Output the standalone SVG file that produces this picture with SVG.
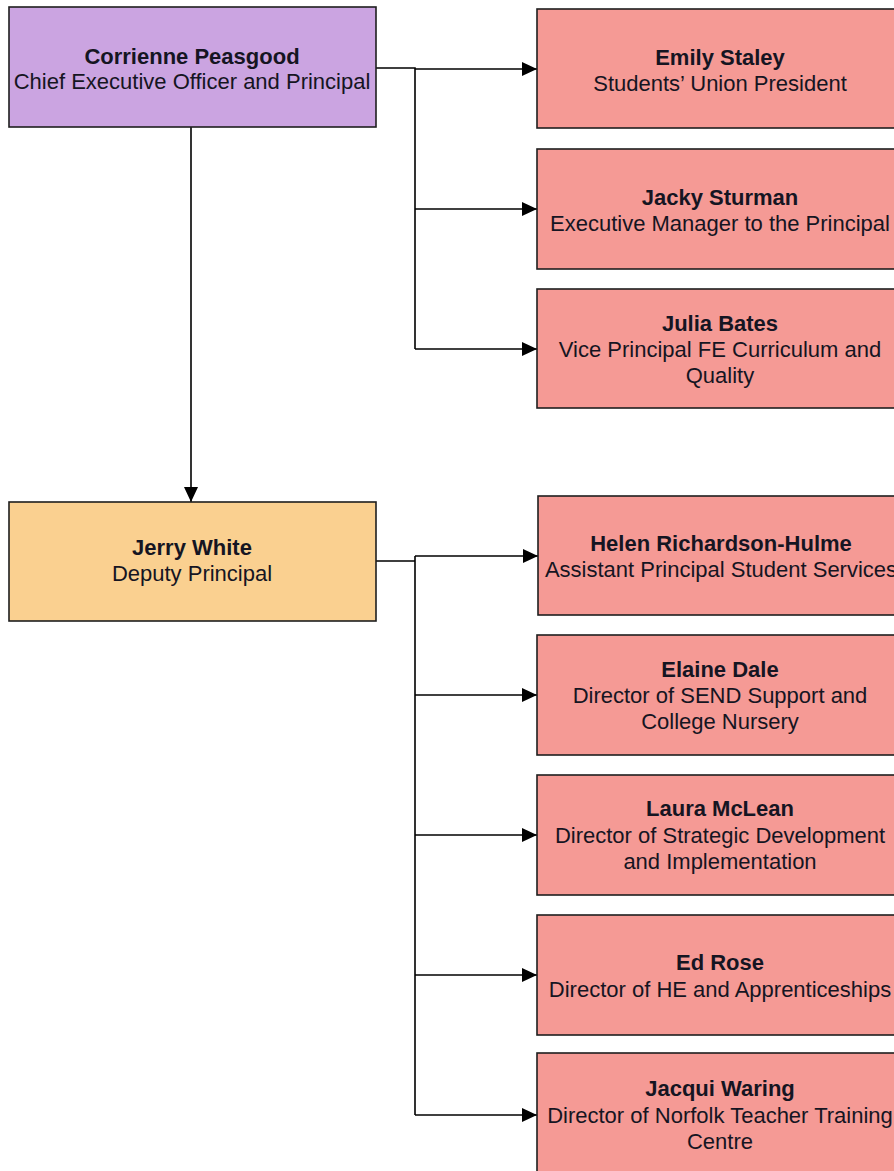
<svg xmlns="http://www.w3.org/2000/svg" width="894" height="1171" viewBox="0 0 894 1171">
<style>
.box{stroke:#1f1f1f;stroke-width:1.6}
.ceo{fill:#cba4e1}
.dep{fill:#fad090}
.rep{fill:#f59a95}
.t{font-family:"Liberation Sans",Arial,sans-serif;font-size:22px;fill:#151522;text-anchor:middle}
.b{font-weight:bold}
.c{fill:none;stroke:#000;stroke-width:1.6}
</style>
<defs>
<marker id="ah" markerUnits="userSpaceOnUse" markerWidth="16" markerHeight="16" refX="15" refY="8" orient="auto">
<path d="M0,1 L15,8 L0,15 z" fill="#000"/>
</marker>
</defs>
<rect width="894" height="1171" fill="#fff"/>
<g id="connectors">
<path class="c" d="M376,68 H415 V349"/>
<path class="c" d="M415,69 H537" marker-end="url(#ah)"/>
<path class="c" d="M415,209 H537" marker-end="url(#ah)"/>
<path class="c" d="M415,349 H537" marker-end="url(#ah)"/>
<path class="c" d="M191,127 V502" marker-end="url(#ah)"/>
<path class="c" d="M376,561 H415 V556 M415,556 V1115"/>
<path class="c" d="M415,556 H538" marker-end="url(#ah)"/>
<path class="c" d="M415,695 H537" marker-end="url(#ah)"/>
<path class="c" d="M415,835 H537" marker-end="url(#ah)"/>
<path class="c" d="M415,975 H537" marker-end="url(#ah)"/>
<path class="c" d="M415,1115 H537" marker-end="url(#ah)"/>
</g>
<g id="ceo">
<rect class="box ceo" x="9" y="7" width="367" height="120"/>
<text class="t b" x="192" y="64">Corrienne Peasgood</text>
<text class="t" x="192" y="89">Chief Executive Officer and Principal</text>
</g>
<g id="emily">
<rect class="box rep" x="537" y="9" width="366" height="119"/>
<text class="t b" x="720" y="65">Emily Staley</text>
<text class="t" x="720" y="91">Students’ Union President</text>
</g>
<g id="jacky">
<rect class="box rep" x="537" y="149" width="366" height="120"/>
<text class="t b" x="720" y="205">Jacky Sturman</text>
<text class="t" x="720" y="231">Executive Manager to the Principal</text>
</g>
<g id="julia">
<rect class="box rep" x="537" y="289" width="366" height="119"/>
<text class="t b" x="720" y="331">Julia Bates</text>
<text class="t" x="720" y="357">Vice Principal FE Curriculum and</text>
<text class="t" x="720" y="383">Quality</text>
</g>
<g id="jerry">
<rect class="box dep" x="9" y="502" width="367" height="119"/>
<text class="t b" x="192" y="555">Jerry White</text>
<text class="t" x="192" y="581">Deputy Principal</text>
</g>
<g id="helen">
<rect class="box rep" x="538" y="496" width="366" height="119"/>
<text class="t b" x="721" y="551">Helen Richardson-Hulme</text>
<text class="t" x="721" y="577">Assistant Principal Student Services</text>
</g>
<g id="elaine">
<rect class="box rep" x="537" y="635" width="366" height="120"/>
<text class="t b" x="720" y="677">Elaine Dale</text>
<text class="t" x="720" y="703">Director of SEND Support and</text>
<text class="t" x="720" y="729">College Nursery</text>
</g>
<g id="laura">
<rect class="box rep" x="537" y="775" width="366" height="120"/>
<text class="t b" x="720" y="816">Laura McLean</text>
<text class="t" x="720" y="843">Director of Strategic Development</text>
<text class="t" x="720" y="869">and Implementation</text>
</g>
<g id="ed">
<rect class="box rep" x="537" y="915" width="366" height="120"/>
<text class="t b" x="720" y="970">Ed Rose</text>
<text class="t" x="720" y="997">Director of HE and Apprenticeships</text>
</g>
<g id="jacqui">
<rect class="box rep" x="537" y="1053" width="366" height="125"/>
<text class="t b" x="720" y="1096">Jacqui Waring</text>
<text class="t" x="720" y="1123">Director of Norfolk Teacher Training</text>
<text class="t" x="720" y="1149">Centre</text>
</g>
</svg>
